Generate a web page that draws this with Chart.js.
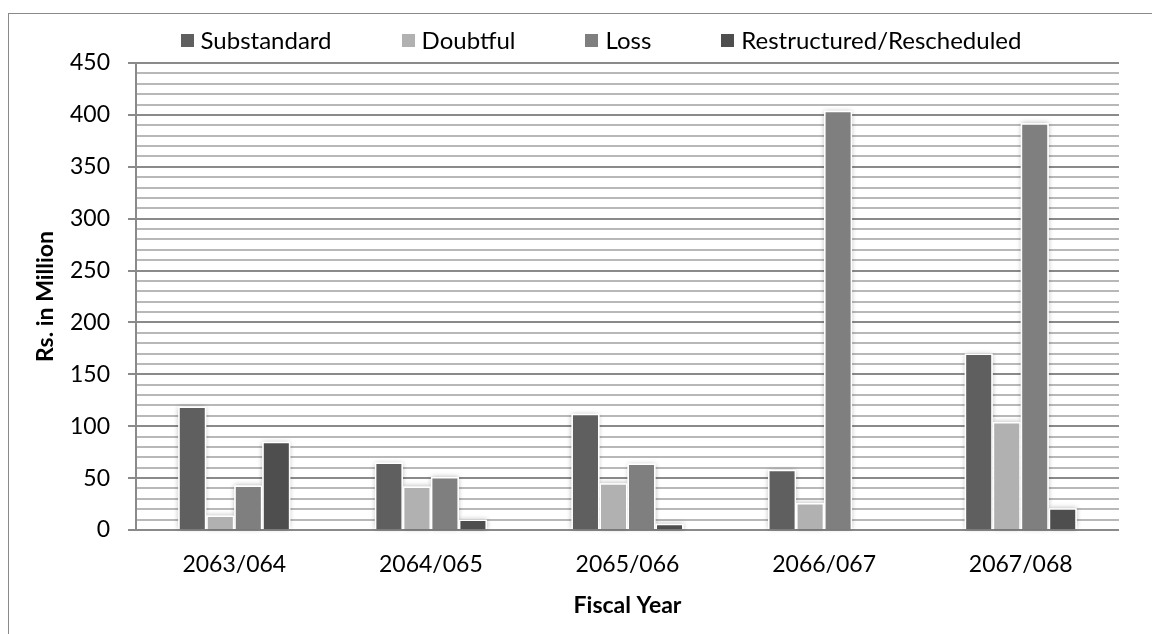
<!DOCTYPE html>
<html>
<head>
<meta charset="utf-8">
<script src="https://cdn.jsdelivr.net/npm/chart.js@4.4.1/dist/chart.umd.min.js"></script>
<style>
  html, body { margin: 0; padding: 0; background: #fff; overflow: hidden; }
  #wrap { position: relative; width: 1152px; height: 634px; overflow: hidden; }
  #wrap canvas { position: absolute; left: 0; top: 0; }
  #frame {
    position: absolute; left: 8px; top: 13px; right: -10px; bottom: -10px;
    border-left: 1px solid #8a8a8a; border-top: 1px solid #8a8a8a;
    pointer-events: none;
  }
</style>
</head>
<body>
<div id="wrap">
  <canvas id="chart" width="1152" height="634"></canvas>
  <div id="frame"></div>
</div>
<script>
// Non-performing loan breakdown by fiscal year (Rs. in Million)
const categories   = ['2063/064', '2064/065', '2065/066', '2066/067', '2067/068'];
const substandard  = [119, 65, 112, 58, 170];
const doubtful     = [14, 42, 45, 26, 104];
const loss         = [43, 51, 64, 404, 392];
const restructured = [85, 10, 6, 0, 21];

const seriesNames  = ['Substandard', 'Doubtful', 'Loss', 'Restructured/Rescheduled'];
const seriesColors = ['#5f5f5f', '#b1b1b1', '#7f7f7f', '#4e4e4e'];

const yMin = 0, yMax = 450, yMinorStep = 10, yMajorStep = 50;

const FONT = 'Lato, "Open Sans", sans-serif';

// Soft halo behind each bar, painted before the bars themselves
const barGlow = {
  id: 'barGlow',
  beforeDatasetsDraw(chart, args, opts) {
    const c = chart.ctx;
    c.save();
    c.shadowColor = opts.color;
    c.shadowBlur = opts.blur;
    c.fillStyle = '#ffffff';
    chart.data.datasets.forEach((ds, i) => {
      chart.getDatasetMeta(i).data.forEach(bar => {
        const p = bar.getProps(['x', 'y', 'base', 'width'], true);
        const h = p.base - p.y;
        if (h <= 0.5) return;
        c.fillRect(p.x - p.width / 2, p.y, p.width, h);
      });
    });
    c.restore();
  }
};

// Single-row key above the plot, laid out from measured label widths
const seriesKey = {
  id: 'seriesKey',
  afterDraw(chart, args, opts) {
    const c = chart.ctx;
    c.save();
    c.font = opts.size + 'px ' + FONT;
    const items = chart.data.datasets.map(ds => ({
      text: ds.label,
      color: ds.backgroundColor,
      w: c.measureText(ds.label).width
    }));
    const total = items.reduce((s, it) => s + opts.box + opts.boxGap + it.w, 0)
                + opts.itemGap * (items.length - 1);
    let x = opts.centerX - total / 2;
    c.textBaseline = 'middle';
    c.textAlign = 'left';
    items.forEach(it => {
      c.fillStyle = it.color;
      c.fillRect(Math.round(x), Math.round(opts.y - opts.box / 2), opts.box, opts.box);
      x += opts.box + opts.boxGap;
      c.fillStyle = '#000000';
      c.fillText(it.text, x, opts.y + 1);
      x += it.w + opts.itemGap;
    });
    c.restore();
  }
};

const datasets = [substandard, doubtful, loss, restructured].map((values, i) => ({
  label: seriesNames[i],
  data: values,
  backgroundColor: seriesColors[i],
  borderColor: '#ffffff',
  borderWidth: 1.5,
  categoryPercentage: 0.57,
  barPercentage: 1.0
}));

const isMajor = v => v % yMajorStep === 0;

new Chart(document.getElementById('chart').getContext('2d'), {
  type: 'bar',
  data: { labels: categories, datasets },
  options: {
    responsive: false,
    animation: false,
    layout: { padding: { top: 63, right: 33, bottom: 0, left: 32 } },
    plugins: {
      legend: { display: false },
      tooltip: { enabled: false },
      barGlow: { color: 'rgba(0,0,0,0.3)', blur: 5 },
      seriesKey: { centerX: 601, y: 40, size: 24, box: 13, boxGap: 7, itemGap: 70 }
    },
    scales: {
      x: {
        grid: { display: false, drawTicks: false },
        border: { display: false },
        ticks: { padding: 21, color: '#000', font: { family: FONT, size: 23 } },
        title: {
          display: true, text: 'Fiscal Year', color: '#000',
          font: { family: FONT, size: 23, weight: 'bold' },
          padding: { top: 4, bottom: 15 }
        },
        afterFit: s => { s.height = 104; }
      },
      y: {
        min: yMin, max: yMax,
        ticks: {
          stepSize: yMinorStep, autoSkip: false, padding: 18, color: '#000',
          font: { family: FONT, size: 23 },
          callback: v => (isMajor(v) ? String(v) : '')
        },
        grid: {
          color: ctx => (isMajor(ctx.tick.value) ? '#8a8a8a' : '#b8b8b8'),
          lineWidth: 2,
          tickLength: 8,
          tickColor: ctx => (isMajor(ctx.tick.value) ? '#8a8a8a' : 'rgba(0,0,0,0)')
        },
        border: { color: '#8a8a8a', width: 2 },
        title: {
          display: true, text: 'Rs. in Million', color: '#000',
          font: { family: FONT, size: 23, weight: 'bold' },
          padding: { top: 0, bottom: 4 }
        },
        afterFit: s => { s.width = 104; }
      }
    }
  },
  plugins: [barGlow, seriesKey]
});
</script>
</body>
</html>
